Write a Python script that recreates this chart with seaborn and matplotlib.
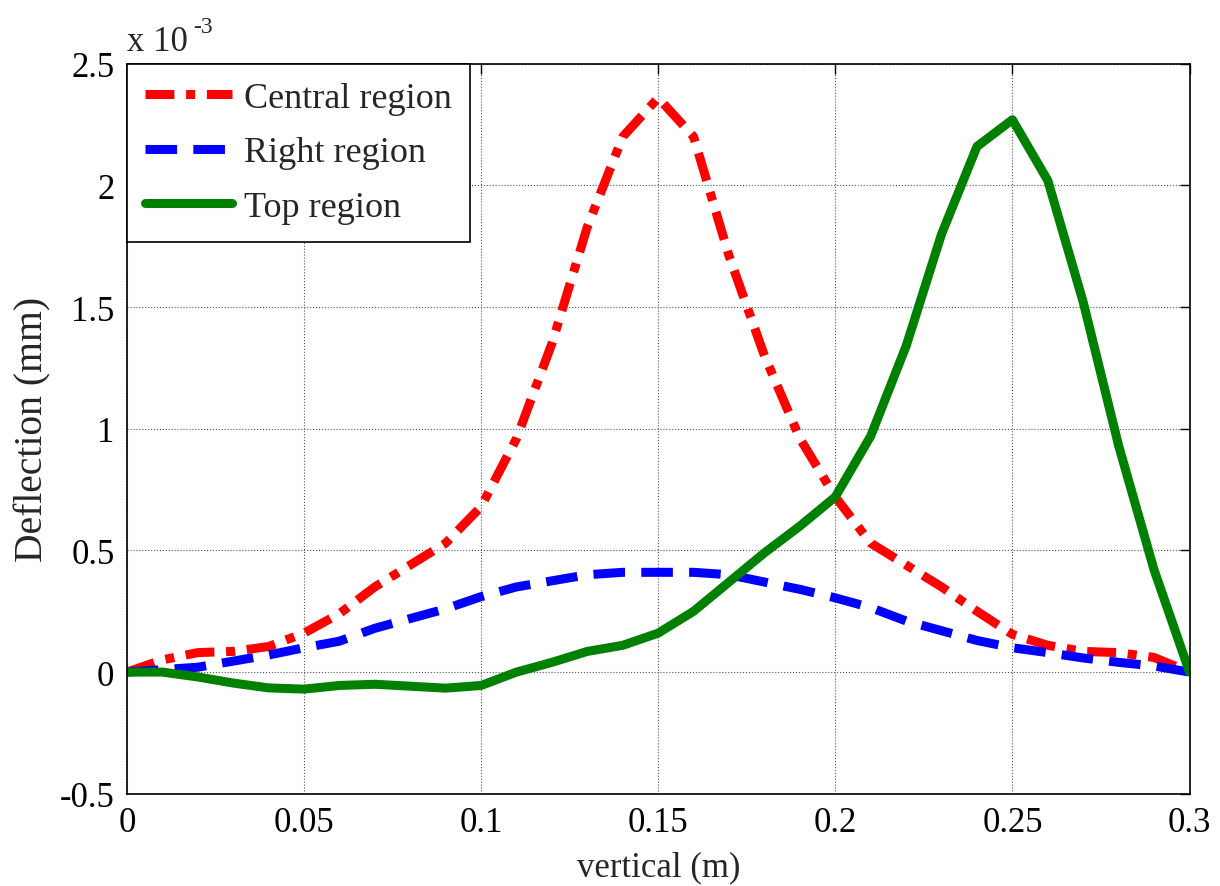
import numpy as np
import pandas as pd
import matplotlib
matplotlib.use('Agg')
import matplotlib.pyplot as plt
import seaborn as sns

# values (deflection in units of 1e-3 mm)
vertical = [0.00, 0.01, 0.02, 0.03, 0.04, 0.05, 0.06, 0.07, 0.08, 0.09, 0.10,
            0.11, 0.12, 0.13, 0.14, 0.15, 0.16, 0.17, 0.18, 0.19, 0.20,
            0.21, 0.22, 0.23, 0.24, 0.25, 0.26, 0.27, 0.28, 0.29, 0.30]
central = [0.0, 0.05, 0.08, 0.085, 0.105, 0.16, 0.24, 0.35, 0.44, 0.53, 0.68,
           0.96, 1.35, 1.83, 2.20, 2.36, 2.20, 1.71, 1.30, 0.96, 0.72,
           0.53, 0.44, 0.35, 0.25, 0.155, 0.11, 0.085, 0.08, 0.06, 0.0]
right = [0.0, 0.01, 0.02, 0.045, 0.07, 0.10, 0.127, 0.18, 0.22, 0.26, 0.31,
         0.35, 0.375, 0.40, 0.41, 0.41, 0.41, 0.40, 0.37, 0.34, 0.305,
         0.265, 0.21, 0.17, 0.13, 0.10, 0.08, 0.058, 0.04, 0.025, 0.0]
top = [0.0, 0.0, -0.02, -0.045, -0.065, -0.07, -0.055, -0.05, -0.058, -0.066, -0.055,
       0.0, 0.04, 0.085, 0.11, 0.16, 0.25, 0.37, 0.49, 0.60, 0.72,
       0.97, 1.34, 1.80, 2.16, 2.27, 2.02, 1.52, 0.93, 0.42, 0.0]

sns.set_style('white')
plt.rcParams['font.family'] = ['Liberation Serif', 'DejaVu Serif']
fs = 25

fig = plt.figure(figsize=(12.2, 8.87), dpi=100)
ax = fig.add_axes([0.104, 0.104, 0.871, 0.823])

sns.lineplot(x=vertical, y=central, ax=ax, color='#ff0000', lw=6.5,
             linestyle=(0, (3.2, 1.3, 1, 1.3)), label='Central region')
sns.lineplot(x=vertical, y=right, ax=ax, color='#0000ff', lw=6.5,
             linestyle=(0, (3.5, 1.8)), label='Right region')
sns.lineplot(x=vertical, y=top, ax=ax, color='#008000', lw=6.5,
             linestyle='-', label='Top region')

ax.set_xlim(0, 0.3)
ax.set_ylim(-0.5, 2.5)
ax.set_xticks([0, 0.05, 0.1, 0.15, 0.2, 0.25, 0.3])
ax.set_xticklabels(['0', '0.05', '0.1', '0.15', '0.2', '0.25', '0.3'])
ax.set_yticks([-0.5, 0, 0.5, 1, 1.5, 2, 2.5])
ax.set_yticklabels(['-0.5', '0', '0.5', '1', '1.5', '2', '2.5'])
ax.tick_params(direction='in', length=7, width=1, top=True, right=True,
               labelsize=fs, colors='black', pad=9)
ax.grid(True, color='#555555', linestyle=':', linewidth=0.8)
for s in ax.spines.values():
    s.set_color('black')
    s.set_linewidth(1.2)

ax.set_xlabel('vertical (m)', fontsize=fs, labelpad=8)
ax.set_ylabel('Deflection (mm)', fontsize=28.5, labelpad=6)

# MATLAB style exponent label above the y axis
ax.text(0.0, 1.008, 'x 10', transform=ax.transAxes, fontsize=fs,
        ha='left', va='bottom')
ax.text(0.062, 1.036, '-3', transform=ax.transAxes, fontsize=17,
        ha='left', va='bottom')

leg = ax.legend(loc='upper left', fontsize=26, handlelength=2.4,
                borderaxespad=0, frameon=True, fancybox=False,
                labelspacing=0.58, borderpad=0.5, handletextpad=0.35)
leg.get_frame().set_edgecolor('black')
leg.get_frame().set_linewidth(1.2)
leg.get_frame().set_alpha(1)

fig.savefig('out.png', dpi=100)
